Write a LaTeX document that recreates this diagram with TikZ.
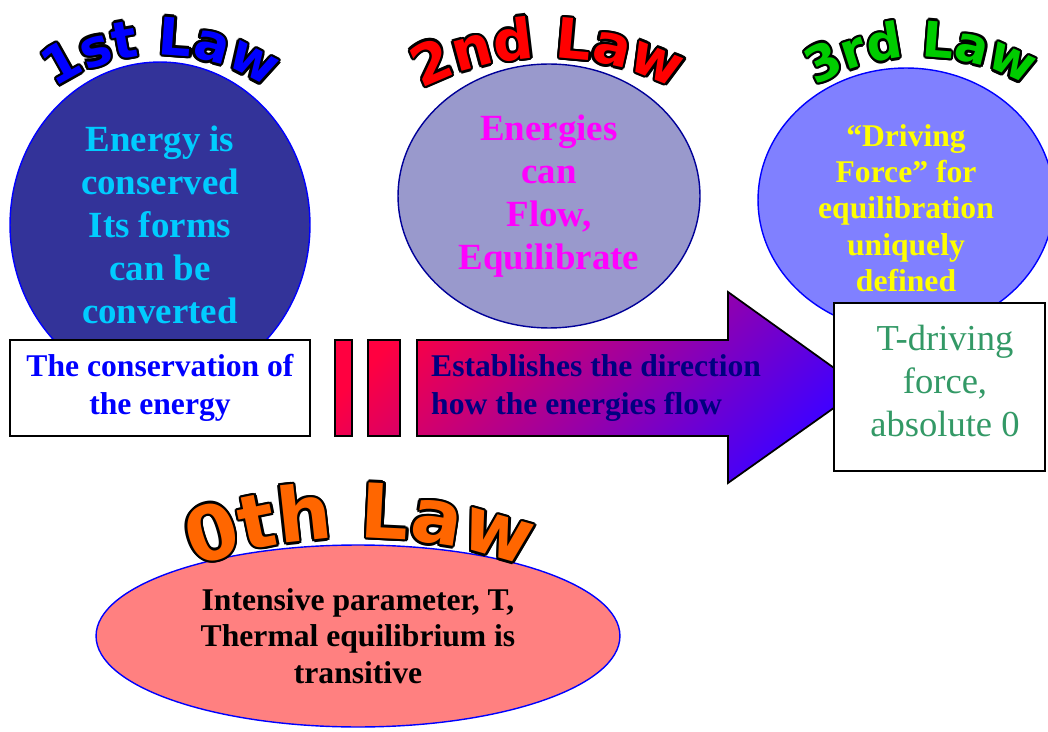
\documentclass[tikz,border=0pt]{standalone}
\usepackage{fontspec}
\setmainfont{Liberation Serif}
\newfontfamily\lawfamily{DejaVu Sans Bold}
\usetikzlibrary{shapes.geometric,decorations.text}

\definecolor{lawblue}{HTML}{333399}
\definecolor{lawlilac}{HTML}{9999CC}
\definecolor{lawviolet}{HTML}{8080FF}
\definecolor{lawpink}{HTML}{FF8080}
\definecolor{lawnavy}{HTML}{000099}
\definecolor{textcyan}{HTML}{00CCFF}
\definecolor{textmagenta}{HTML}{FF00FF}
\definecolor{textyellow}{HTML}{FFFF00}
\definecolor{textnavy}{HTML}{000080}
\definecolor{textgreen}{HTML}{339966}
\definecolor{titlegreen}{HTML}{00CC00}
\definecolor{titleorange}{HTML}{FF6600}
\definecolor{flowred}{HTML}{FF0040}
\definecolor{flowblue}{HTML}{4000FF}

\tikzset{
	law/.style={ellipse, inner sep=0pt, line width=0.8pt, align=center,
		font=\bfseries\fontsize{21pt}{24.4pt}\selectfont},
	box/.style={rectangle, draw=black, fill=white, line width=1pt, inner sep=0pt, align=center},
}

% curved title: centre x, centre y, radius, size, colour, text
\newcommand{\lawtitle}[6]{%
	\foreach \a in {0,30,...,330}
		\path [decorate,decoration={text along path,text align=center,text color=black,
			text={|\lawfamily\fontsize{#4}{#4}\selectfont|#6}}]
			([shift={(\a:1.4pt)}]#1,#2) ++(140:#3) arc [start angle=140,end angle=40,radius=#3];
	\path [decorate,decoration={text along path,text align=center,text color=#5,
		text={|\lawfamily\fontsize{#4}{#4}\selectfont|#6}}]
		(#1,#2) ++(140:#3) arc [start angle=140,end angle=40,radius=#3];
}

\begin{document}
\begin{tikzpicture}[x=0.02cm, y=0.02cm]
	\useasboundingbox (0,0) rectangle (1048,731);

	\node [law, fill=lawblue, draw=blue, text=textcyan, minimum width=6cm, minimum height=6.52cm] (first) at (160, 506)
		{Energy is\\conserved\\Its forms\\can be\\converted};
	\node [law, fill=lawlilac, draw=lawnavy, text=textmagenta, minimum width=6.04cm, minimum height=5.28cm] (second) at (549, 535)
		{Energies\\can\\Flow,\\Equilibrate};
	\node [law, fill=lawviolet, draw=blue, minimum width=5.92cm, minimum height=5.28cm] (third) at (906, 531) {};
	\node [font=\bfseries\fontsize{18pt}{20.7pt}\selectfont, text=textyellow, align=center] (drive) at (906, 523)
		{``Driving\\Force'' for\\equilibration\\uniquely\\defined};
	\node [law, fill=lawpink, draw=blue, text=black, minimum width=10.48cm, minimum height=3.64cm,
		font=\bfseries\fontsize{18pt}{20.7pt}\selectfont] (zeroth) at (358, 95)
		{Intensive parameter, T,\\Thermal equilibrium is\\transitive};

	% arrow
	\begin{scope}
		\clip (335,391) rectangle (352,295)
			(368,391) rectangle (400,295)
			(417,391) -- (728,391) -- (728,439) -- (862,343) -- (728,248) -- (728,295) -- (417,295) -- cycle;
		\shade [top color=flowred, bottom color=flowblue, shading angle=45] (335,248) rectangle (862,439);
	\end{scope}
	\draw [line width=1pt] (335,391) rectangle (352,295)
		(368,391) rectangle (400,295)
		(417,391) -- (728,391) -- (728,439) -- (862,343) -- (728,248) -- (728,295) -- (417,295) -- cycle;
	\node [anchor=west, align=left, text=textnavy, font=\bfseries\fontsize{18pt}{21.5pt}\selectfont] (flow) at (425, 343)
		{Establishes the direction\\how the energies flow};

	% boxes
	\node [box, minimum width=6cm, minimum height=1.92cm, text=blue,
		font=\bfseries\fontsize{18pt}{22pt}\selectfont] (cons) at (160, 343)
		{The conservation of\\the energy};
	\node [box, minimum width=4.22cm, minimum height=3.36cm] (tdrive) at (939.5, 344) {};
	\node [text=textgreen, align=center, font=\fontsize{20.8pt}{24.4pt}\selectfont] (tforce) at (945, 350)
		{T-driving\\force,\\absolute 0};

	% titles
	\lawtitle{161}{491}{185}{29.5pt}{blue}{1st Law}
	\lawtitle{548}{398}{275}{31.7pt}{red}{2nd Law}
	\lawtitle{921}{468}{206}{28pt}{titlegreen}{3rd Law}
	\lawtitle{360}{-293}{486}{43pt}{titleorange}{0th Law}
\end{tikzpicture}
\end{document}
